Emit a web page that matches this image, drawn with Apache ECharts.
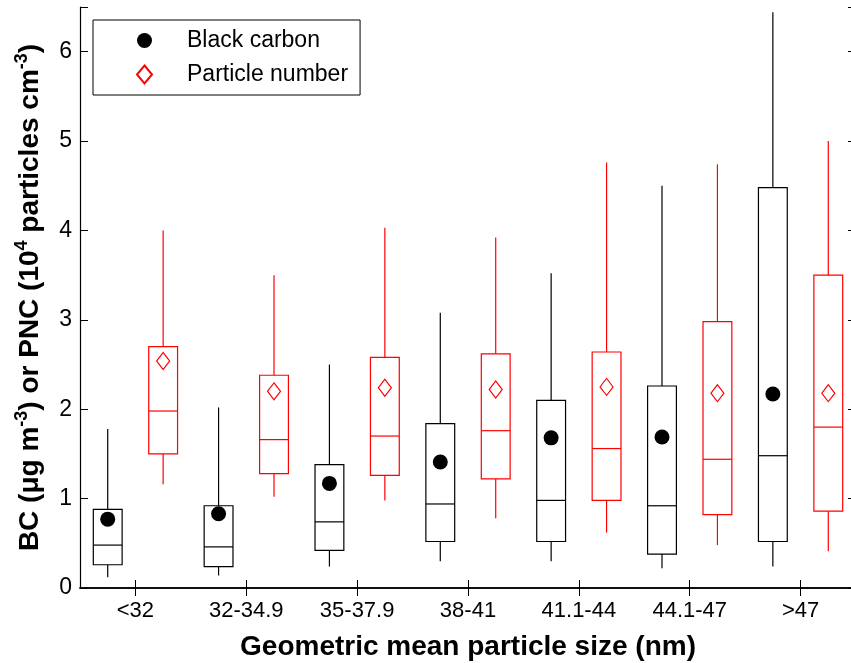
<!DOCTYPE html>
<html>
<head>
<meta charset="utf-8">
<script src="https://cdn.jsdelivr.net/npm/echarts@6/dist/echarts.min.js"></script>
<style>
html,body{margin:0;padding:0;background:#fff;}
#chart{width:851px;height:663px;}
</style>
</head>
<body>
<div id="chart"></div>
<script>
// Categories (geometric mean particle size bins)
const categories = ['<32', '32-34.9', '35-37.9', '38-41', '41.1-44', '44.1-47', '>47'];
const yTicks = [0, 1, 2, 3, 4, 5, 6];

// Black carbon (µg m-3)
const bcWhiskerLow  = [0.12, 0.14, 0.24, 0.30, 0.30, 0.22, 0.24];
const bcQ1          = [0.26, 0.24, 0.42, 0.52, 0.52, 0.38, 0.52];
const bcMedian      = [0.48, 0.46, 0.74, 0.94, 0.98, 0.92, 1.48];
const bcQ3          = [0.88, 0.92, 1.38, 1.84, 2.10, 2.26, 4.48];
const bcWhiskerHigh = [1.78, 2.02, 2.50, 3.08, 3.52, 4.50, 6.44];
const bcMean        = [0.77, 0.83, 1.17, 1.41, 1.68, 1.69, 2.17];

// Particle number concentration (10^4 particles cm-3)
const pnWhiskerLow  = [1.16, 1.02, 0.98, 0.78, 0.62, 0.48, 0.41];
const pnQ1          = [1.50, 1.28, 1.26, 1.22, 0.98, 0.82, 0.86];
const pnMedian      = [1.98, 1.66, 1.70, 1.76, 1.56, 1.44, 1.80];
const pnQ3          = [2.70, 2.38, 2.58, 2.62, 2.64, 2.98, 3.50];
const pnWhiskerHigh = [4.00, 3.50, 4.03, 3.92, 4.76, 4.74, 5.00];
const pnMean        = [2.54, 2.20, 2.24, 2.22, 2.25, 2.18, 2.18];

const FONT = '"Liberation Sans", Arial, Helvetica, sans-serif';
const BOX_W = 0.52;

// positions: black box at 2i+1, red box at 2i+2
const bcPos = categories.map((c, i) => 2 * i + 1);
const pnPos = categories.map((c, i) => 2 * i + 2);

const bcBoxes = categories.map((c, i) => [bcPos[i], bcWhiskerLow[i], bcQ1[i], bcMedian[i], bcQ3[i], bcWhiskerHigh[i]]);
const pnBoxes = categories.map((c, i) => [pnPos[i], pnWhiskerLow[i], pnQ1[i], pnMedian[i], pnQ3[i], pnWhiskerHigh[i]]);
const bcMeans = categories.map((c, i) => [bcPos[i], bcMean[i]]);
const pnMeans = categories.map((c, i) => [pnPos[i], pnMean[i]]);

function boxRenderer(color) {
  return function (params, api) {
    const x = api.value(0);
    const lo = api.coord([x, api.value(1)]);
    const q1 = api.coord([x, api.value(2)]);
    const md = api.coord([x, api.value(3)]);
    const q3 = api.coord([x, api.value(4)]);
    const hi = api.coord([x, api.value(5)]);
    const hw = api.size([BOX_W, 0])[0] / 2;
    const cx = lo[0];
    const st = { stroke: color, lineWidth: 1.2, fill: null };
    return {
      type: 'group',
      children: [
        { type: 'line', shape: { x1: cx, y1: hi[1], x2: cx, y2: q3[1] }, style: st },
        { type: 'line', shape: { x1: cx, y1: q1[1], x2: cx, y2: lo[1] }, style: st },
        { type: 'rect', shape: { x: cx - hw, y: q3[1], width: 2 * hw, height: q1[1] - q3[1] }, style: { stroke: color, lineWidth: 1.2, fill: 'rgba(0,0,0,0)' } },
        { type: 'line', shape: { x1: cx - hw, y1: md[1], x2: cx + hw, y2: md[1] }, style: st }
      ]
    };
  };
}

const chart = echarts.init(document.getElementById('chart'), null, { renderer: 'canvas' });

const option = {
  backgroundColor: '#fff',
  animation: false,
  textStyle: { fontFamily: FONT },
  grid: { left: 80, top: 7, right: -5, bottom: 75, containLabel: false, outerBoundsMode: 'none' },
  legend: {
    orient: 'vertical',
    left: 93,
    top: 20,
    padding: [9, 12, 9, 43],
    itemGap: 11,
    itemWidth: 15,
    itemHeight: 18,
    backgroundColor: '#fff',
    borderColor: '#000',
    borderWidth: 1,
    borderRadius: 0,
    textStyle: { fontSize: 23, color: '#000', fontFamily: FONT, padding: [0, 0, 0, 30] },
    data: [
      { name: 'Black carbon', icon: 'circle' },
      { name: 'Particle number', icon: 'diamond' }
    ]
  },
  xAxis: [
    {
      type: 'category',
      data: categories,
      position: 'bottom',
      boundaryGap: true,
      axisLine: { show: true, lineStyle: { color: '#000', width: 1.5 } },
      axisTick: { show: true, inside: true, length: 8, alignWithLabel: true, lineStyle: { color: '#000' } },
      axisLabel: { fontSize: 22, color: '#000', margin: 12, fontFamily: FONT },
      splitLine: { show: false },
      name: 'Geometric mean particle size (nm)',
      nameLocation: 'middle',
      nameGap: 45,
      nameTextStyle: { fontSize: 28, fontWeight: 'bold', color: '#000', fontFamily: FONT }
    },
    {
      type: 'category',
      data: categories,
      position: 'top',
      boundaryGap: true,
      axisLine: { show: true, lineStyle: { color: '#000', width: 1.5 } },
      axisTick: { show: true, inside: true, length: 8, alignWithLabel: true, lineStyle: { color: '#000' } },
      axisLabel: { show: false },
      splitLine: { show: false }
    },
    {
      type: 'value',
      min: 0.5,
      max: 14.5,
      show: false,
      splitLine: { show: false }
    }
  ],
  yAxis: [
    {
      type: 'value',
      position: 'left',
      min: yTicks[0],
      max: 6.5,
      interval: 1,
      axisLine: { show: true, lineStyle: { color: '#000', width: 1.2 } },
      axisTick: { show: true, inside: true, length: 8, lineStyle: { color: '#000' } },
      axisLabel: {
        fontSize: 23, color: '#000', margin: 8, fontFamily: FONT,
        formatter: function (v) { return yTicks.indexOf(v) >= 0 ? String(v) : ''; }
      },
      splitLine: { show: false },
      name: '{a|BC (μg m}{s|-3}{a|) or PNC (10}{s|4}{a| particles cm}{s|-3}{a|)}',
      nameLocation: 'middle',
      nameGap: 36,
      nameRotate: 90,
      nameTextStyle: {
        color: '#000',
        rich: {
          a: { fontSize: 28, fontWeight: 'bold', color: '#000', fontFamily: FONT, verticalAlign: 'bottom' },
          s: { fontSize: 18, fontWeight: 'bold', color: '#000', fontFamily: FONT, verticalAlign: 'bottom', padding: [0, 0, 13, 0] }
        }
      }
    },
    {
      type: 'value',
      position: 'right',
      min: yTicks[0],
      max: 6.5,
      interval: 1,
      axisLine: { show: true, lineStyle: { color: '#000', width: 1.2 } },
      axisTick: { show: true, inside: true, length: 8, lineStyle: { color: '#000' } },
      axisLabel: { show: false },
      splitLine: { show: false }
    }
  ],
  series: [
    {
      name: 'BC box',
      type: 'custom',
      xAxisIndex: 2,
      yAxisIndex: 0,
      renderItem: boxRenderer('#000'),
      encode: { x: 0, y: [1, 2, 3, 4, 5] },
      data: bcBoxes,
      z: 2
    },
    {
      name: 'PN box',
      type: 'custom',
      xAxisIndex: 2,
      yAxisIndex: 0,
      renderItem: boxRenderer('#ff0000'),
      encode: { x: 0, y: [1, 2, 3, 4, 5] },
      data: pnBoxes,
      z: 2
    },
    {
      name: 'Black carbon',
      type: 'scatter',
      xAxisIndex: 2,
      yAxisIndex: 0,
      symbol: 'circle',
      symbolSize: 15,
      itemStyle: { color: '#000', opacity: 1 },
      data: bcMeans,
      z: 5
    },
    {
      name: 'Particle number',
      type: 'scatter',
      xAxisIndex: 2,
      yAxisIndex: 0,
      symbol: 'diamond',
      symbolSize: [13, 17],
      itemStyle: { color: 'rgba(255,255,255,0)', borderColor: '#ff0000', borderWidth: 1.2, opacity: 1 },
      data: pnMeans,
      z: 5
    }
  ]
};

chart.setOption(option);
</script>
</body>
</html>
